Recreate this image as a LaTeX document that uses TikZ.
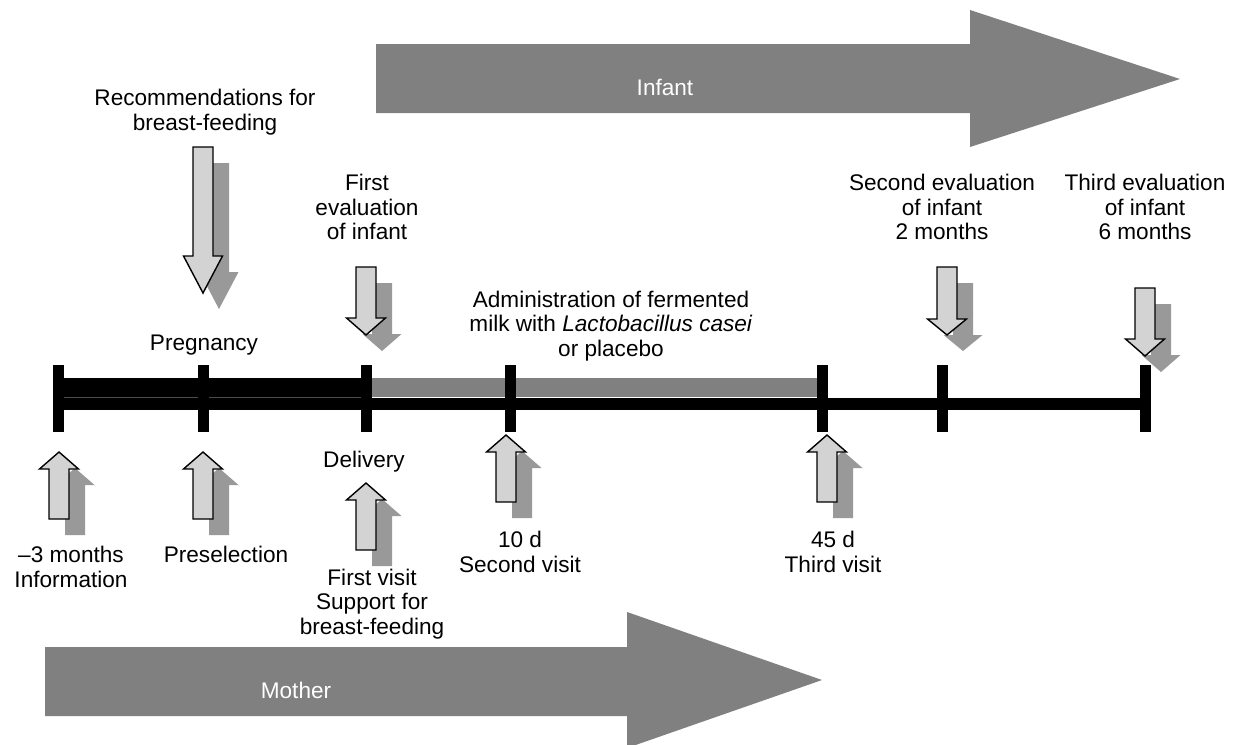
\documentclass[tikz,border=0pt]{standalone}
\usepackage{fontspec}
\setmainfont{Liberation Sans}
\definecolor{bandgray}{HTML}{808080}
\definecolor{shadowgray}{HTML}{999999}
\definecolor{arrowfill}{HTML}{D3D3D3}
\tikzset{
  lbl/.style={font=\fontsize{22.6}{24.5}\selectfont, align=center, inner sep=0pt},
  wlbl/.style={lbl, text=white},
  arrowbody/.style={fill=arrowfill, draw=black, line width=1.4pt, line join=miter},
  arrowshadow/.style={fill=shadowgray},
}
% down block arrow: x, top y, shaft length, total length
\newcommand\DownArr[4]{%
  \begin{scope}[shift={(#1,#2)}]
    \path[arrowshadow] (6,16) -- (26,16) -- (26,{#3+16}) -- (35.5,{#3+16}) -- (16,{#4+16}) -- (-3.5,{#3+16}) -- (6,{#3+16}) -- cycle;
    \path[arrowbody] (-10,0) -- (10,0) -- (10,#3) -- (19.5,#3) -- (0,#4) -- (-19.5,#3) -- (-10,#3) -- cycle;
  \end{scope}}
% up block arrow: x, tip y
\newcommand\UpArr[2]{%
  \begin{scope}[shift={(#1,#2)}]
    \path[arrowshadow] (16,16) -- (35.5,33) -- (26,33) -- (26,83) -- (6,83) -- (6,33) -- (-3.5,33) -- cycle;
    \path[arrowbody] (0,0) -- (19.5,17) -- (10,17) -- (10,67) -- (-10,67) -- (-10,17) -- (-19.5,17) -- cycle;
  \end{scope}}
\begin{document}
\begin{tikzpicture}[x=1pt,y=-1pt]
\clip (0,0) rectangle (1236,744);
\fill[white] (0,0) rectangle (1236,744);

% big arrows
\fill[bandgray] (376,44) -- (970,44) -- (970,10) -- (1180,79) -- (970,147) -- (970,113) -- (376,113) -- cycle;
\node[wlbl] (infant) at (665,87) {Infant};
\fill[bandgray] (45,647) -- (627,647) -- (627,612) -- (822,680) -- (627,748) -- (627,716) -- (45,716) -- cycle;
\node[wlbl] (mother) at (296,690) {Mother};

% timeline
\fill[black] (58,378) rectangle (366,397);
\fill[bandgray] (366,378) rectangle (822,397);
\fill[black] (58,398) rectangle (1145,410);
\draw[color=black!70, line width=0.8pt] (58,397.5) -- (366,397.5);
\foreach \tx in {58.5,203,366,510,822.5,942.5,1145}
  \fill[black] ({\tx-5.5},365) rectangle ({\tx+5.5},432);

% down arrows
\DownArr{203}{147}{109}{146}
\DownArr{366}{267}{51}{68}
\DownArr{947}{267}{52}{68}
\DownArr{1145}{288}{51}{68}

% up arrows
\UpArr{59}{452}
\UpArr{203}{452}
\UpArr{366}{483}
\UpArr{506}{435}
\UpArr{827}{435}

% labels
\node[lbl] (reco) at (205,112) {Recommendations for\\breast-feeding};
\node[lbl] (preg) at (204,345) {Pregnancy};
\node[lbl] (firsteval) at (367,207) {First\\evaluation\\of infant};
\node[lbl] (admin) at (611,326) {Administration of fermented\\milk with \textit{Lactobacillus casei}\\or placebo};
\node[lbl] (secondeval) at (942,207) {Second evaluation\\of infant\\2 months};
\node[lbl] (thirdeval) at (1145,207) {Third evaluation\\of infant\\6 months};
\node[lbl] (delivery) at (364,462) {Delivery};
\node[lbl] (info) at (71,567) {\textendash 3 months\\Information};
\node[lbl] (presel) at (226,554) {Preselection};
\node[lbl] (tend) at (520,552) {10 d\\Second visit};
\node[lbl] (firstvisit) at (372,604) {First visit\\Support for\\breast-feeding};
\node[lbl] (fortyfive) at (833,552) {45 d\\Third visit};
\end{tikzpicture}
\end{document}
